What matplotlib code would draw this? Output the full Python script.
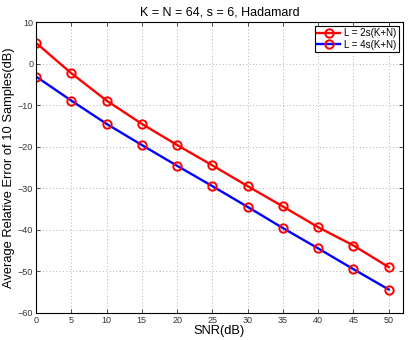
import matplotlib
matplotlib.use('Agg')
import matplotlib.pyplot as plt

snr = [0, 5, 10, 15, 20, 25, 30, 35, 40, 45, 50]
err_2s = [5.0, -2.3, -8.9, -14.5, -19.6, -24.5, -29.5, -34.4, -39.4, -43.8, -49.0]
err_4s = [-3.1, -8.9, -14.5, -19.6, -24.6, -29.5, -34.5, -39.6, -44.5, -49.5, -54.4]
labels = ['L = 2s(K+N)', 'L = 4s(K+N)']

plt.rcParams['font.family'] = ['Liberation Sans', 'DejaVu Sans']

fig = plt.figure(figsize=(4.09, 3.40), dpi=100)
ax = fig.add_axes([0.088, 0.08, 0.897, 0.855])

ax.plot(snr, err_2s, color='red', lw=1.7, marker='o', markersize=6,
        markerfacecolor='none', markeredgecolor='red', markeredgewidth=1.4,
        label=labels[0])
ax.plot(snr, err_4s, color='blue', lw=1.7, marker='o', markersize=6,
        markerfacecolor='none', markeredgecolor='red', markeredgewidth=1.4,
        label=labels[1])

ax.set_xlim(0, 52)
ax.set_ylim(-60, 10)
ax.set_xticks(range(0, 51, 5))
ax.set_yticks(range(-60, 11, 10))
ax.tick_params(direction='in', labelsize=6.5, top=True, right=True,
               length=3, width=0.6, colors='#333333', pad=2)
ax.grid(True, linestyle=(0, (1, 3)), color='#999999', lw=0.6)
for s in ax.spines.values():
    s.set_linewidth(0.8)

ax.set_title('K = N = 64, s = 6, Hadamard', fontsize=9, pad=5)
ax.set_xlabel('SNR(dB)', fontsize=9.3, labelpad=0)
ax.set_ylabel('Average Relative Error of 10 Samples(dB)', fontsize=9.3, labelpad=2)

leg = ax.legend(loc='upper right', fontsize=7, fancybox=False, framealpha=1,
                edgecolor='black', handlelength=2.4, handletextpad=0.4,
                borderpad=0.25, labelspacing=0.15, borderaxespad=0.4)
leg.get_frame().set_linewidth(0.8)

fig.savefig('out.png', dpi=100)
